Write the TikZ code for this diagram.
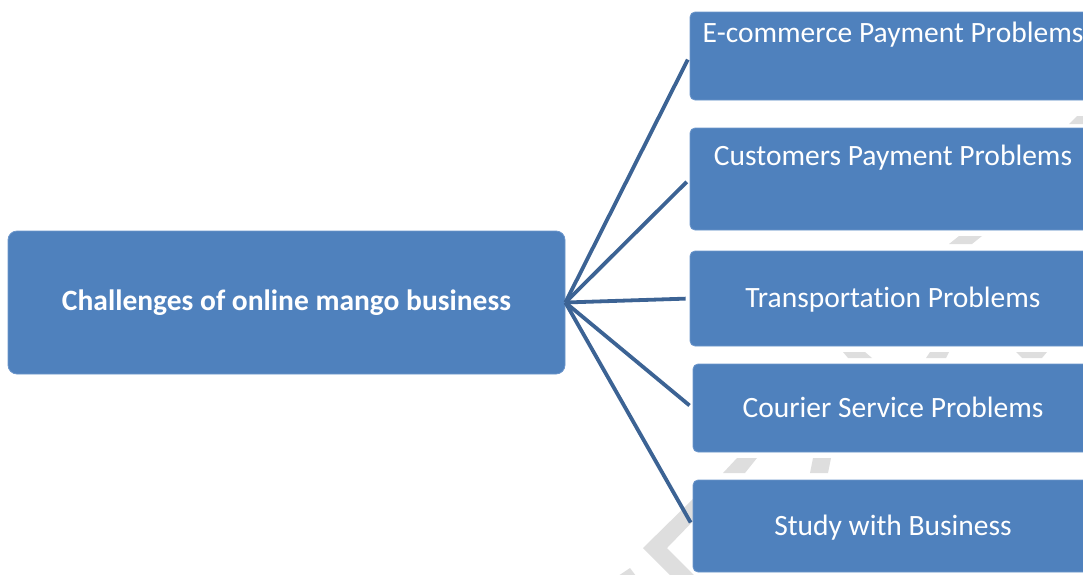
\documentclass[tikz,border=0pt]{standalone}
\usepackage{fontspec}
\setmainfont{Carlito}[Ligatures=NoCommon]
\usetikzlibrary{positioning}
\definecolor{boxBlue}{RGB}{79,129,189}
\definecolor{boxEdge}{RGB}{108,150,203}
\definecolor{linkBlue}{RGB}{60,99,148}
\definecolor{markGray}{RGB}{222,222,222}

\begin{document}
\begin{tikzpicture}[
        x=1pt, y=-1pt,
        box/.style={rectangle, draw=boxEdge, line width=0.8pt, rounded corners=5pt, fill=boxBlue, text=white, align=center, inner sep=0pt, font=\fontsize{29.5}{34}\selectfont},
        root/.style={box, rounded corners=9pt, font=\fontsize{29.5}{34}\selectfont\bfseries},
        link/.style={draw=linkBlue, line width=3.8pt, shorten >=4pt},
        wmark/.style={fill=markGray}
    ]
    \useasboundingbox (0,0) rectangle (1083,574);
    \clip (0,0) rectangle (1083,574);

    % Filigrane
    \fill[wmark] (1069,124) -- (1077,116) -- (1090,116) -- (1090,124) -- cycle;
    \fill[wmark] (959,236) -- (982,236) -- (972,244) -- (949,244) -- cycle;
    \fill[wmark] (843,352) -- (865,352) -- (872,358) -- (848,358) -- cycle;
    \fill[wmark] (930,352) -- (949,352) -- (946,358) -- (926,358) -- cycle;
    \fill[wmark] (1016,352) -- (1047,352) -- (1042,358) -- (1022,358) -- cycle;
    \fill[wmark] (737,458) -- (757,458) -- (745,473) -- (723,473) -- cycle;
    \fill[wmark] (813,458) -- (831,458) -- (828,473) -- (810,473) -- cycle;
    \fill[wmark] (700,492) -- (643,548) -- (673,578) -- (697,578) -- (667,548) -- (700,514) -- cycle;
    \fill[wmark] (618,576) -- (630,568) -- (636,576) -- cycle;

    % Racine
    \node[root, minimum width=557pt, minimum height=143pt, text height=21pt, text depth=5pt] (root) at (286.5,302.5) {Challenges of online mango business};

    % Problemes
    \node[box, minimum width=406pt, text height=30pt, text depth=58pt] (ecom) at (893,56) {E-commerce Payment Problems};
    \node[box, minimum width=406pt, text height=37pt, text depth=65pt] (cust) at (893,179) {Customers Payment Problems};
    \node[box, minimum width=406pt, minimum height=95pt, text height=22pt, text depth=4pt] (trans) at (893,298.5) {Transportation Problems};
    \node[box, minimum width=400pt, minimum height=88pt, text height=22pt, text depth=4pt] (courier) at (893,408) {Courier Service Problems};
    \node[box, minimum width=400pt, minimum height=92pt, text height=22pt, text depth=4pt] (study) at (893,526) {Study with Business};

    % Liens
    \draw[link] (root.east) -- (ecom.west);
    \draw[link] (root.east) -- (cust.west);
    \draw[link] (root.east) -- (trans.west);
    \draw[link] (root.east) -- (courier.west);
    \draw[link] (root.east) -- (study.west);

\end{tikzpicture}
\end{document}
